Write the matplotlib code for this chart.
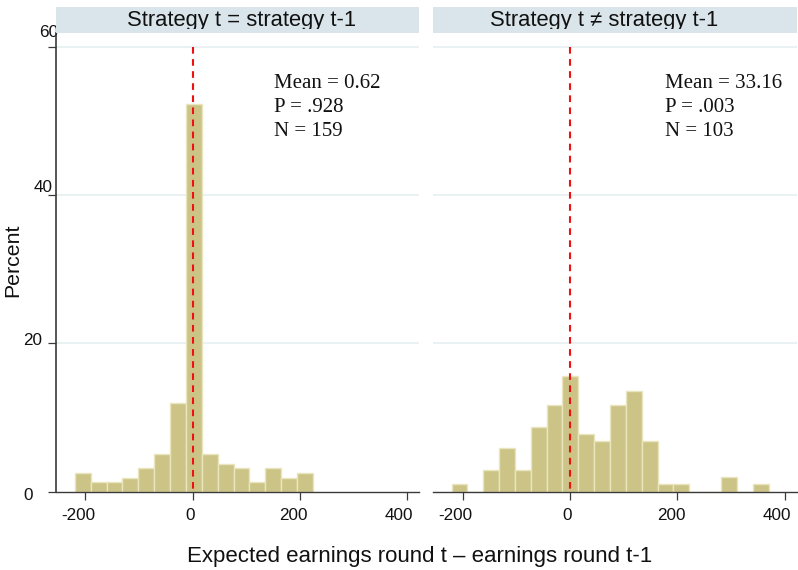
import matplotlib
matplotlib.use("Agg")
import matplotlib.pyplot as plt
import numpy as np
from matplotlib.transforms import offset_copy
from matplotlib.patches import Rectangle

# ---- data -------------------------------------------------------------
panel_titles = ["Strategy t = strategy t-1", "Strategy t \u2260 strategy t-1"]

# same strategy as previous round
same_bin_start = -220.0
same_bin_width = 29.67
same_counts = [4, 2, 2, 3, 5, 8, 19, 83, 8, 6, 5, 2, 5, 3, 4]
same_n = 159
same_mean = "0.62"
same_p = ".928"

# strategy switched from previous round
diff_bin_start = -221.0
diff_bin_width = 29.55
diff_counts = [1, 0, 3, 6, 3, 9, 12, 16, 8, 7, 12, 14, 7, 1, 1, 0, 0, 2, 0, 1]
diff_n = 103
diff_mean = "33.16"
diff_p = ".003"

x_ticks = [-200, 0, 200, 400]
x_tick_labels = ["-200", "0", "200", "400"]
y_ticks = [0, 20, 40, 60]
y_tick_labels = ["0", "20", "40", "60"]
reference_x = 0

# ---- styling ----------------------------------------------------------
SANS = ["Liberation Sans", "DejaVu Sans"]
SERIF = ["Liberation Serif", "DejaVu Serif"]
BAR_FILL = "#ccc486"
BAR_EDGE = "#e9e5bf"
STRIP = "#d9e5eb"
GRID = "#e4edf0"
AXIS = "#3a3a3a"

W, H, DPI = 7.98, 5.70, 100
fig = plt.figure(figsize=(W, H), dpi=DPI)
fig.patch.set_facecolor("white")

px = lambda v: v / (W * DPI)
py = lambda v: v / (H * DPI)

AX_TOP, AX_BOT = 33.3, 491.7
ax_bottom = py(570 - AX_BOT)
ax_height = py(AX_BOT - AX_TOP)
axes = [
    fig.add_axes([px(56), ax_bottom, px(419 - 56), ax_height]),
    fig.add_axes([px(433.3), ax_bottom, px(797 - 433.3), ax_height]),
]

panels = [
    (same_bin_start, same_bin_width, same_counts, same_n, same_mean, same_p, 151.4),
    (diff_bin_start, diff_bin_width, diff_counts, diff_n, diff_mean, diff_p, 177.6),
]
title_dx = [4.0, -11.0]

XLIM = (-255, 423)
YLIM = (0, 61.78)
x_label_dx = [-7.4, -2.5, -6.5, -8.2]
y_label_shift = [(-23, -8.3), (-14, -1.7), (-3, 2.5), (2.7, 9.2)]
ax_px_h = AX_BOT - AX_TOP

for i, (ax, (start, width, counts, n, mean, p, text_x)) in enumerate(zip(axes, panels)):
    counts = np.asarray(counts, dtype=float)
    pct = counts / n * 100
    edges = start + width * np.arange(len(counts))

    ax.set_xlim(*XLIM)
    ax.set_ylim(*YLIM)
    ax.set_facecolor("white")

    # horizontal grid
    for yv in y_ticks[1:]:
        ax.axhline(yv, color=GRID, lw=1.1, zorder=0)

    ax.bar(edges, pct, width=width, align="edge", color=BAR_FILL,
           edgecolor=BAR_EDGE, linewidth=1.0, zorder=2)

    ax.plot([reference_x, reference_x], [60, 0], color="#ee1111", lw=1.5,
            linestyle=(0, (3.2, 2.6)), zorder=3)

    for sp in ["top", "right"]:
        ax.spines[sp].set_visible(False)
    ax.spines["bottom"].set_color(AXIS)
    ax.spines["bottom"].set_linewidth(1.0)
    ax.set_xticks(x_ticks)
    ax.set_xticklabels([])
    ax.tick_params(axis="x", length=5.5, width=0.9, color=AXIS, direction="out")

    # x tick labels
    for xv, lab, dx in zip(x_ticks, x_tick_labels, x_label_dx):
        tr = offset_copy(ax.get_xaxis_transform(), fig=fig, x=dx, y=-28.3, units="dots")
        ax.text(xv, 0, lab, transform=tr, ha="center", va="baseline",
                fontsize=12.3, family=SANS, color="#111111")

    if i == 0:
        ax.spines["left"].set_color(AXIS)
        ax.spines["left"].set_linewidth(1.2)
        ax.set_yticks(y_ticks)
        ax.set_yticklabels([])
        ax.tick_params(axis="y", length=5.8, width=0.9, color=AXIS, direction="out")
        for yv, lab, (dx, dy) in zip(y_ticks, y_tick_labels, y_label_shift):
            tr = offset_copy(ax.get_yaxis_transform(), fig=fig, x=dx, y=dy, units="dots")
            ax.text(0, yv, lab, transform=tr, ha="right", va="baseline",
                    fontsize=12.3, family=SANS, color="#111111", zorder=1)
    else:
        ax.spines["left"].set_visible(False)
        ax.set_yticks([])

    # statistics block
    for k, line in enumerate([f"Mean = {mean}", f"P = {p}", f"N = {n}"]):
        ax.text(text_x, 54.45 - 3.26 * k, line, ha="left", va="baseline",
                fontsize=15, family=SERIF, color="#111111", zorder=4)

    # panel heading strip
    strip_h = 26.0 / ax_px_h
    rect = Rectangle((0, 1), 1, strip_h, transform=ax.transAxes,
                     facecolor=STRIP, edgecolor="none", clip_on=False, zorder=5)
    ax.add_patch(rect)
    # heading text is cut just below its baseline
    clip = Rectangle((0, 1 + 4.3 / ax_px_h), 1, (26.0 - 4.3) / ax_px_h,
                     transform=ax.transAxes, facecolor="none", edgecolor="none",
                     clip_on=False, visible=False)
    ax.add_patch(clip)
    ax_px_w = ax.get_position().width * W * DPI
    t = ax.text(0.5 + title_dx[i] / ax_px_w, 1 + 7.3 / ax_px_h, panel_titles[i],
                transform=ax.transAxes, ha="center", va="baseline", fontsize=15.8,
                family=SANS, color="#111111", zorder=6, clip_on=True)
    t.set_clip_path(clip)

fig.text(px(13), 1 - py(260), "Percent", rotation=90, ha="center", va="center",
         fontsize=15.3, family=SANS, color="#111111")
fig.text(px(420), 1 - py(562), "Expected earnings round t \u2013 earnings round t-1",
         ha="center", va="baseline", fontsize=16, family=SANS, color="#111111")

fig.savefig("out.png", dpi=DPI, facecolor="white")
